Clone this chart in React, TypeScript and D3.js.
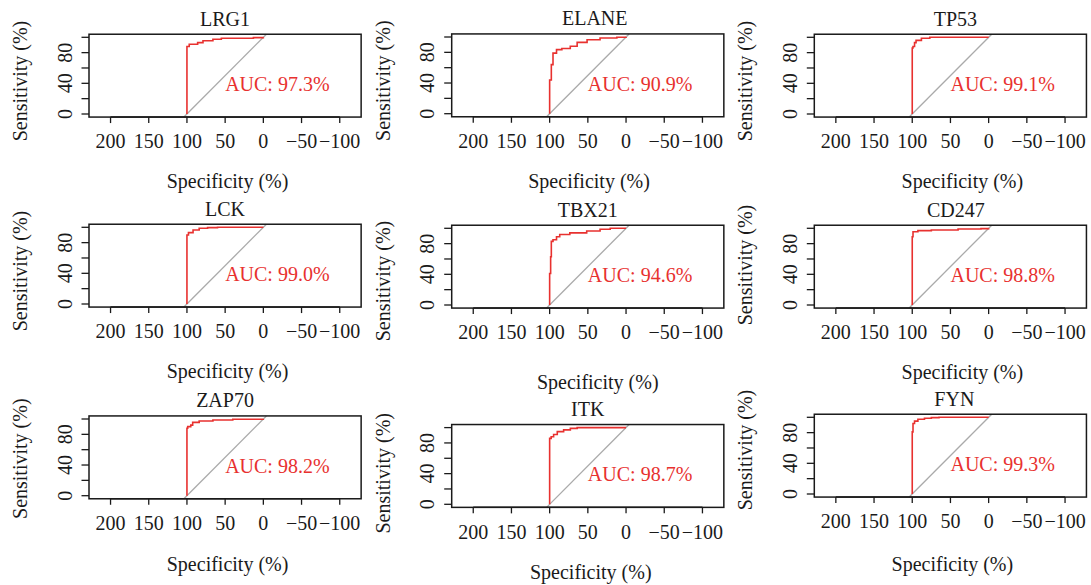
import React from "react";
import * as d3 from "d3";

// ---- data ----
const GENES = ["LRG1", "ELANE", "TP53", "LCK", "TBX21", "CD247", "ZAP70", "ITK", "FYN"];
const AUC = [97.3, 90.9, 99.1, 99.0, 94.6, 98.8, 98.2, 98.7, 99.3];

const LRG1_SPEC = [100, 100, 97, 86, 79, 66, 55, 13, 0];
const LRG1_SENS = [0, 88, 91, 93, 95.6, 97.4, 98.7, 99.6, 100];
const ELANE_SPEC = [100, 100, 97.8, 95.6, 91, 84, 73, 64, 51, 34, 12, 0];
const ELANE_SENS = [0, 44, 64, 79, 83.5, 85, 88, 93, 96.5, 98.7, 99.6, 100];
const TP53_SPEC = [100, 100, 99, 97, 95, 88, 77, 0];
const TP53_SENS = [0, 86, 88, 93, 96, 98.7, 100, 100];
const LCK_SPEC = [100, 100, 98, 92, 84, 73, 60, 0];
const LCK_SENS = [0, 90, 93, 96.5, 98.7, 99.6, 100, 100];
const TBX21_SPEC = [100, 100, 98.7, 97.8, 95.6, 91, 86.8, 73.6, 51.5, 34, 20.7, 0];
const TBX21_SENS = [0, 41, 63, 83, 85, 89, 92, 94, 96.5, 98.7, 100, 100];
const CD247_SPEC = [100, 100, 99, 92.6, 75, 40, 10, 0];
const CD247_SENS = [0, 89, 95.6, 97, 97.8, 99, 99.6, 100];
const ZAP70_SPEC = [100, 100, 99, 95, 92.5, 84, 66, 40, 0];
const ZAP70_SENS = [0, 88, 90, 92, 95.6, 97.4, 98.7, 99.6, 100];
const ITK_SPEC = [100, 100, 98, 94.8, 90, 81.7, 72.9, 64, 0];
const ITK_SENS = [0, 86, 88, 91, 94.8, 97, 99, 100, 100];
const FYN_SPEC = [100, 100, 99, 97, 92.6, 84, 75, 65, 0];
const FYN_SENS = [0, 81, 92, 95, 97.4, 98.7, 99.6, 100, 100];

const SPECS = [LRG1_SPEC, ELANE_SPEC, TP53_SPEC, LCK_SPEC, TBX21_SPEC, CD247_SPEC, ZAP70_SPEC, ITK_SPEC, FYN_SPEC];
const SENS = [LRG1_SENS, ELANE_SENS, TP53_SENS, LCK_SENS, TBX21_SENS, CD247_SENS, ZAP70_SENS, ITK_SENS, FYN_SENS];

const X_TICKS = [200, 150, 100, 50, 0, -50, -100];
const X_TICK_LABELS = ["200", "150", "100", "50", "0", "\u221250", "\u2212100"];
const Y_TICKS = [0, 20, 40, 60, 80, 100];
const Y_TICK_LABELS = [0, 40, 80];

// ---- layout ----
const X_DOMAIN = [228.2, -128];
const Y_DOMAIN = [-4, 104];
const PX_PER_UNIT = 0.764;
const COL_LEFT = [89, 451.7, 814.3];
const ZERO_Y = [114, 113.7, 114, 304, 305, 305, 495.7, 504.3, 494];
const TITLE_DX = [0, 7, 5, 0, 0, 5.5, 0, 0, 4];
const XLAB_DX = [2.5, 1.3, 12, 2.5, 10, 12, 2.5, 3, 2];
const XLAB_DY = [74.3, 74.3, 74.3, 74.3, 83.6, 74.3, 74.9, 74.7, 76.5];
const YLAB_DY = [-33, -33, -33, -33, -24, -40, -37, -31, -44];

const RED = "#e8312f";
const FONT = "'Liberation Serif', 'Times New Roman', serif";

function Panel({ i }: { i: number }) {
  const left = COL_LEFT[i % 3];
  const y0 = ZERO_Y[i];
  const width = (X_DOMAIN[0] - X_DOMAIN[1]) * PX_PER_UNIT;
  const yScale = d3.scaleLinear().domain([0, 100]).range([y0, y0 - 100 * 0.767]);
  const x = d3.scaleLinear().domain(X_DOMAIN).range([left, left + width]);
  const top = yScale(Y_DOMAIN[1]);
  const bottom = yScale(Y_DOMAIN[0]);
  const pts: [number, number][] = SPECS[i].map((s, k) => [s, SENS[i][k]]);
  const line = d3
    .line<[number, number]>()
    .x((d) => x(d[0]))
    .y((d) => yScale(d[1]))
    .curve(d3.curveStepAfter);
  const cx = left + width / 2;
  const diagA = 100 - Y_DOMAIN[0];
  const diagB = 100 - Y_DOMAIN[1];
  return (
    <g>
      <text x={cx + TITLE_DX[i]} y={y0 - 88.4} textAnchor="middle" fontSize={20} fill="#1a1a1a">
        {GENES[i]}
      </text>
      <line
        x1={x(diagA)}
        y1={yScale(Y_DOMAIN[0])}
        x2={x(diagB)}
        y2={yScale(Y_DOMAIN[1])}
        stroke="#aaaaaa"
        strokeWidth={1.3}
      />
      <path d={line(pts) || ""} fill="none" stroke={RED} strokeWidth={1.6} />
      <text x={x(50)} y={yScale(50) + 15.2} fontSize={20} fill={RED}>
        {`AUC: ${AUC[i].toFixed(1)}%`}
      </text>
      <rect x={left} y={top} width={width} height={bottom - top} fill="none" stroke="#1a1a1a" strokeWidth={1.5} />
      {/* x axis */}
      <line x1={x(200)} x2={x(-100)} y1={bottom} y2={bottom} stroke="#1a1a1a" strokeWidth={1.5} />
      {X_TICKS.map((t, k) => (
        <g key={t}>
          <line x1={x(t)} x2={x(t)} y1={bottom} y2={bottom + 6} stroke="#1a1a1a" strokeWidth={1.3} />
          <text x={x(t)} y={y0 + 34.4} textAnchor="middle" fontSize={20} fill="#1a1a1a">
            {X_TICK_LABELS[k]}
          </text>
        </g>
      ))}
      {/* y axis */}
      {Y_TICKS.map((t) => (
        <line key={t} x1={left - 7.5} x2={left} y1={yScale(t)} y2={yScale(t)} stroke="#1a1a1a" strokeWidth={1.3} />
      ))}
      {Y_TICK_LABELS.map((t) => (
        <text
          key={t}
          transform={`translate(${left - 17.3},${yScale(t)}) rotate(-90)`}
          textAnchor="middle"
          fontSize={20}
          fill="#1a1a1a"
        >
          {t}
        </text>
      ))}
      <text x={cx + XLAB_DX[i]} y={y0 + XLAB_DY[i]} textAnchor="middle" fontSize={20} fill="#1a1a1a">
        Specificity (%)
      </text>
      <text
        transform={`translate(${left - 62},${y0 + YLAB_DY[i]}) rotate(-90)`}
        textAnchor="middle"
        fontSize={20}
        fill="#1a1a1a"
      >
        Sensitivity (%)
      </text>
    </g>
  );
}

export default function App() {
  return (
    <svg
      width={1091}
      height={585}
      style={{ position: "absolute", left: 0, top: 0, background: "#fff" }}
      fontFamily={FONT}
    >
      <rect width={1091} height={585} fill="#fff" />
      {GENES.map((g, i) => (
        <Panel key={g} i={i} />
      ))}
    </svg>
  );
}
